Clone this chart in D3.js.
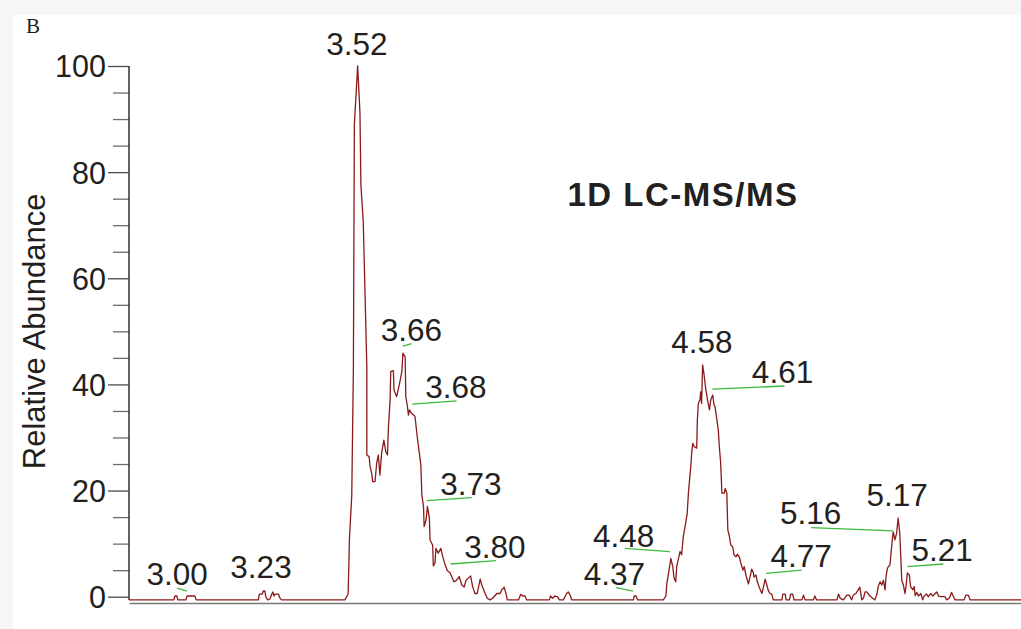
<!DOCTYPE html>
<html>
<head>
<meta charset="utf-8">
<script src="https://cdn.jsdelivr.net/npm/d3@7"></script>
<style>
  html, body { margin: 0; padding: 0; background: #f6f6f6; }
  svg { display: block; }
</style>
</head>
<body>
<div id="chart"></div>
<script>
// DATA
const panelLetter = 'B';
const chartTitle = '1D LC-MS/MS';
const yLabel = 'Relative Abundance';
const yMajorTicks = [0, 20, 40, 60, 80, 100];
const yMinorTicks = [5, 10, 15, 25, 30, 35, 45, 50, 55, 65, 70, 75, 85, 90, 95];
const rtRange = [2.822, 5.545];

// [retention time (min), relative abundance]
const trace = [
  [2.822, -0.6], [2.959, -0.6], [2.962, 0.13], [2.968, 0.13], [2.971, -0.6],
  [2.996, -0.6], [2.999, 0.13], [3.023, 0.13], [3.027, -0.6],
  [3.217, -0.6], [3.220, 0.5], [3.229, 0.5], [3.232, 1.07], [3.237, 1.07], [3.239, 0.13],
  [3.245, -0.6], [3.252, -0.43], [3.258, 0.5], [3.261, 0.9], [3.265, 0.13], [3.268, 0.5],
  [3.278, 0.5], [3.283, -0.3], [3.288, -0.6],
  [3.481, -0.6], [3.491, 0.5], [3.495, 11], [3.502, 19], [3.507, 43], [3.510, 89],
  [3.520, 100], [3.527, 91.3], [3.530, 77.5], [3.537, 70.9], [3.548, 43.4], [3.548, 26.7],
  [3.555, 26.4], [3.558, 24.5], [3.563, 23.2], [3.566, 21.7], [3.573, 21.7], [3.578, 25.1],
  [3.583, 26.7], [3.588, 22.9], [3.593, 27], [3.600, 29.5], [3.606, 27.3], [3.611, 26.7],
  [3.614, 32], [3.619, 37], [3.621, 42.4], [3.629, 42.6], [3.631, 38.9], [3.639, 37.7],
  [3.647, 39.9], [3.655, 42.4], [3.658, 45.9], [3.665, 45.2], [3.667, 37.7], [3.672, 35.8],
  [3.675, 34.2], [3.678, 35.2], [3.685, 34.5], [3.695, 34], [3.702, 30.1], [3.713, 24.8],
  [3.716, 19.2], [3.721, 17], [3.723, 13.2], [3.729, 14.5], [3.733, 17], [3.739, 14.8],
  [3.741, 10.7], [3.749, 9.7], [3.751, 5.8], [3.756, 6.3], [3.759, 9.1], [3.766, 8.2],
  [3.774, 9.1], [3.780, 7.5], [3.787, 6], [3.794, 4.9], [3.802, 4.5], [3.807, 3.8],
  [3.814, 2.8], [3.822, 3.1], [3.830, 3.8], [3.838, 2.2], [3.845, 1.8], [3.851, 3.1],
  [3.858, 3.5], [3.865, 3.9], [3.871, 1.9], [3.878, 0.6], [3.885, 0.6], [3.894, 3.3],
  [3.899, 2.2], [3.909, 0.6], [3.916, -0.3], [3.924, -0.6], [3.932, -0.3], [3.945, 0.6],
  [3.955, 0.6], [3.960, 1.3], [3.965, 1.6], [3.967, 1.8], [3.973, 0.6], [3.977, -0.6],
  [4.011, -0.6], [4.018, 0.45], [4.024, 0.13], [4.031, 0.13], [4.036, -0.6],
  [4.105, -0.6], [4.109, 0.13], [4.115, -0.3], [4.122, 0.13], [4.130, 0], [4.136, -0.6],
  [4.148, -0.6], [4.158, 0.6], [4.163, 0.9], [4.170, 0.13], [4.173, -0.6],
  [4.362, -0.6], [4.364, 0.13], [4.370, 0.13], [4.374, -0.6],
  [4.453, -0.6], [4.461, 0.13], [4.464, 2.5], [4.469, 4.4], [4.476, 7.2], [4.482, 5.65],
  [4.486, 3.5], [4.491, 2.8], [4.494, 5.65], [4.504, 8.5], [4.509, 7.9], [4.514, 11.3],
  [4.522, 14.1], [4.526, 15.7], [4.530, 19.8], [4.537, 24.5], [4.540, 27.3], [4.543, 28.9],
  [4.547, 28.3], [4.555, 28], [4.557, 33.3], [4.560, 36.4], [4.565, 37.1], [4.567, 38.6],
  [4.570, 36.4], [4.573, 43.7], [4.577, 42.1], [4.580, 40.5], [4.583, 39], [4.588, 37.1],
  [4.594, 35.2], [4.598, 37.1], [4.604, 38], [4.608, 36.1], [4.611, 35.8], [4.616, 33.6],
  [4.621, 31.4], [4.624, 28.3], [4.628, 25.4], [4.632, 19.5], [4.639, 19.5], [4.642, 20.4],
  [4.647, 19.5], [4.650, 12.6], [4.655, 11.3], [4.659, 9.7], [4.665, 9.4], [4.669, 7.9],
  [4.675, 7.5], [4.679, 8], [4.685, 7.5], [4.690, 6.3], [4.696, 5], [4.700, 5.65],
  [4.706, 3.9], [4.713, 2.4], [4.718, 3.8], [4.723, 5.2], [4.728, 4.5], [4.730, 3.7],
  [4.736, 4.1], [4.740, 2.8], [4.746, 1.8], [4.754, 0.6], [4.759, 1.9], [4.764, 3.3],
  [4.769, 2.2], [4.774, 1.1], [4.779, 0.6], [4.784, 0.5], [4.789, -0.6],
  [4.815, -0.6], [4.818, 0.5], [4.825, 0.5], [4.828, -0.6], [4.838, -0.6], [4.842, 0.5],
  [4.848, 0.5], [4.852, -0.6], [4.876, -0.6], [4.881, 0.3], [4.886, -0.6],
  [4.911, -0.6], [4.916, 0.13], [4.921, -0.6], [4.983, -0.6], [4.988, 0.5], [4.993, -0.3],
  [5.003, -0.6], [5.013, 0.3], [5.021, 0.3], [5.028, -0.6], [5.033, 0.3], [5.041, 0.6],
  [5.048, 1.3], [5.053, 1.8], [5.059, -0.6], [5.064, -0.3], [5.069, 0.9], [5.074, 0.9],
  [5.084, 0.13], [5.092, -0.3], [5.099, -0.6], [5.105, 0.4], [5.109, 1.9], [5.115, 2.8],
  [5.120, 2.2], [5.125, 3.1], [5.130, 1.3], [5.133, 3.8], [5.137, 5.3], [5.140, 5.65],
  [5.145, 6], [5.148, 8], [5.153, 11.3], [5.155, 12.2], [5.160, 10.7], [5.165, 11.9],
  [5.170, 14.8], [5.175, 11.9], [5.181, 3.1], [5.186, 2.2], [5.191, 0.6], [5.194, 1.9],
  [5.198, 4.5], [5.204, 4.1], [5.208, 1.9], [5.215, 1.3], [5.219, 1.9], [5.222, 0.2],
  [5.227, 0.8], [5.232, 0.13], [5.239, 0.6], [5.245, -0.6], [5.249, 0.13], [5.257, 0.5],
  [5.262, 0], [5.269, 0.6], [5.276, 0.13], [5.283, 0.6], [5.288, 0.9], [5.293, 0.13],
  [5.300, 0], [5.313, 0], [5.318, -0.6], [5.326, -0.3], [5.333, 0.8], [5.338, 0.13],
  [5.344, -0.6], [5.371, -0.6], [5.377, 0.3], [5.384, 0.3], [5.390, -0.6], [5.545, -0.6]
];

// peak labels: text, text anchor (rt, abundance), leader line [rt1, ab1, rt2, ab2] or null
const peakLabels = [
  { text: '3.00', rt: 2.969, ab: 2.2, leader: [2.969, 1.6, 2.999, 1.07] },
  { text: '3.23', rt: 3.225, ab: 3.5, leader: null },
  { text: '3.52', rt: 3.518, ab: 102.1, leader: null },
  { text: '3.66', rt: 3.684, ab: 48.2, leader: [3.658, 47.2, 3.685, 47.7] },
  { text: '3.68', rt: 3.820, ab: 37.4, leader: [3.687, 36.3, 3.822, 36.9] },
  { text: '3.73', rt: 3.866, ab: 19.2, leader: [3.731, 18.1, 3.868, 18.65] },
  { text: '3.80', rt: 3.939, ab: 7.3, leader: [3.804, 6.16, 3.942, 6.78] },
  { text: '4.37', rt: 4.304, ab: 2.2, leader: [4.309, 1.7, 4.361, 1.07] },
  { text: '4.48', rt: 4.332, ab: 9.4, leader: [4.336, 9.1, 4.473, 8.5] },
  { text: '4.58', rt: 4.571, ab: 45.9, leader: null },
  { text: '4.61', rt: 4.817, ab: 40.3, leader: [4.603, 39.1, 4.823, 39.7] },
  { text: '4.77', rt: 4.874, ab: 5.6, leader: [4.767, 4.4, 4.876, 5.0] },
  { text: '5.16', rt: 4.903, ab: 13.7, leader: [4.904, 13.0, 5.154, 12.4] },
  { text: '5.17', rt: 5.167, ab: 17.1, leader: null },
  { text: '5.21', rt: 5.304, ab: 6.7, leader: [5.198, 5.65, 5.308, 6.16] }
];

// SETTINGS
const width = 1021;
const height = 629;
const plotLeft = 129, plotRight = 1021, plotTop = 66, plotZero = 596.7;
const traceColor = '#8b1a1a';
const leaderColor = '#3cba3c';
const textColor = '#231f20';
const font = 'Arial, "Liberation Sans", Helvetica, sans-serif';

// SCALES
const x = d3.scaleLinear().domain(rtRange).range([plotLeft, plotRight]);
const y = d3.scaleLinear().domain([0, 100]).range([plotZero, plotTop]);

const line = d3.line()
  .x(d => x(d[0]))
  .y(d => y(d[1]));

const svg = d3.select('#chart')
  .append('svg')
  .attr('width', width)
  .attr('height', height);

// white panel over grey page
svg.append('rect')
  .attr('x', 13).attr('y', 15)
  .attr('width', width - 13).attr('height', height - 15)
  .attr('fill', '#fff');

svg.append('text')
  .attr('x', 26).attr('y', 33)
  .attr('font-family', '"Liberation Serif", "Times New Roman", serif')
  .attr('font-size', 21)
  .attr('fill', textColor)
  .text(panelLetter);

// AXES
const yMinor = d3.axisLeft(y)
  .tickValues(yMinorTicks)
  .tickSize(16)
  .tickFormat('')
  .tickSizeOuter(0);

const yMajor = d3.axisLeft(y)
  .tickValues(yMajorTicks)
  .tickSize(21)
  .tickPadding(2)
  .tickSizeOuter(0);

const yMinorGroup = svg.append('g')
  .attr('transform', `translate(${plotLeft}, 0)`)
  .call(yMinor);
yMinorGroup.select('.domain').remove();
yMinorGroup.selectAll('line').attr('stroke', '#6d6d6d').attr('stroke-width', 1.3);

const yAxisGroup = svg.append('g')
  .attr('transform', `translate(${plotLeft}, 0)`)
  .call(yMajor);
yAxisGroup.select('.domain')
  .attr('d', `M0,${y(100)}V${y(-0.6)}`)
  .attr('stroke', '#231f20')
  .attr('stroke-width', 1.4);
yAxisGroup.selectAll('line').attr('stroke', '#4a4a4a').attr('stroke-width', 1.3);
yAxisGroup.selectAll('text')
  .attr('font-family', font)
  .attr('font-size', 30.5)
  .attr('fill', textColor)
  .attr('dy', '0.36em');

const xAxis = d3.axisBottom(x).ticks(0).tickSizeOuter(0);
svg.append('g')
  .attr('transform', `translate(0, ${y(-1.2)})`)
  .call(xAxis)
  .select('.domain')
  .attr('stroke', '#7a7a7a')
  .attr('stroke-width', 1.5);

svg.append('text')
  .attr('transform', `translate(45, ${y(50)}) rotate(-90)`)
  .attr('text-anchor', 'middle')
  .attr('font-family', font)
  .attr('font-size', 31)
  .attr('fill', textColor)
  .text(yLabel);

// TRACE
svg.append('path')
  .datum(trace)
  .attr('fill', 'none')
  .attr('stroke', traceColor)
  .attr('stroke-width', 1.3)
  .attr('stroke-linejoin', 'round')
  .attr('d', line);

// PEAK LABELS
const labels = svg.append('g');

labels.selectAll('line')
  .data(peakLabels.filter(d => d.leader))
  .enter()
  .append('line')
  .attr('x1', d => x(d.leader[0]))
  .attr('y1', d => y(d.leader[1]))
  .attr('x2', d => x(d.leader[2]))
  .attr('y2', d => y(d.leader[3]))
  .attr('stroke', leaderColor)
  .attr('stroke-width', 1.3);

labels.selectAll('text')
  .data(peakLabels)
  .enter()
  .append('text')
  .attr('x', d => x(d.rt))
  .attr('y', d => y(d.ab))
  .attr('text-anchor', 'middle')
  .attr('font-family', font)
  .attr('font-size', 31.5)
  .attr('fill', textColor)
  .text(d => d.text);

svg.append('text')
  .attr('x', 683)
  .attr('y', 206)
  .attr('text-anchor', 'middle')
  .attr('font-family', font)
  .attr('font-size', 33)
  .attr('font-weight', 'bold')
  .attr('letter-spacing', 1.5)
  .attr('fill', textColor)
  .text(chartTitle);
</script>
</body>
</html>
